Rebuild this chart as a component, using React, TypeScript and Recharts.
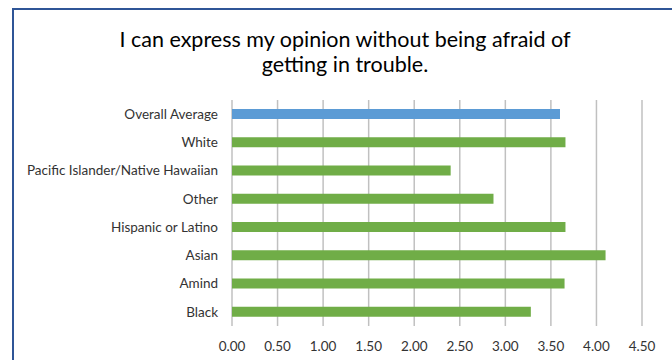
import { Bar, BarChart, CartesianGrid, Cell, XAxis, YAxis } from "recharts";

const CATEGORIES = [
  "Overall Average",
  "White",
  "Pacific Islander/Native Hawaiian",
  "Other",
  "Hispanic or Latino",
  "Asian",
  "Amind",
  "Black",
];
const SCORES = [3.6, 3.66, 2.4, 2.87, 3.66, 4.1, 3.65, 3.28];
const X_TICKS = [0, 0.5, 1, 1.5, 2, 2.5, 3, 3.5, 4, 4.5];

const FONT = "Lato, 'Open Sans', sans-serif";
const BLUE = "#5b9bd5";
const GREEN = "#70ad47";

export default function App() {
  const data = CATEGORIES.map((name, i) => ({ name, score: SCORES[i] }));

  return (
    <div style={{ position: "absolute", left: 0, top: 0, width: 672, height: 360, overflow: "hidden", background: "#fff" }}>
      {/* marco del gráfico (solo bordes izquierdo y superior visibles) */}
      <div
        style={{
          position: "absolute",
          left: 12,
          top: 8,
          width: 700,
          height: 400,
          borderLeft: "2px solid #2f5597",
          borderTop: "2px solid #2f5597",
        }}
      />
      <div
        style={{
          position: "absolute",
          left: 0,
          top: 27,
          width: 690,
          textAlign: "center",
          fontFamily: FONT,
          fontSize: 21.5,
          lineHeight: "25px",
          color: "#000",
        }}
      >
        I can express my opinion without being afraid of
        <br />
        getting in trouble.
      </div>
      <BarChart
        width={672}
        height={360}
        data={data}
        layout="vertical"
        margin={{ top: 100, right: 30, bottom: 4, left: 10 }}
        style={{ position: "absolute", left: 0, top: 0 }}
      >
        <CartesianGrid horizontal={false} stroke="#c0c0c0" strokeWidth={1.5} />
        <XAxis
          type="number"
          domain={[0, 4.5]}
          ticks={X_TICKS}
          tickFormatter={(v: number) => v.toFixed(2)}
          axisLine={false}
          tickLine={false}
          tickMargin={9}
          height={30}
          interval={0}
          tick={{ fill: "#333", fontSize: 13.5, fontFamily: FONT }}
        />
        <YAxis
          type="category"
          dataKey="name"
          width={222}
          axisLine={false}
          tickLine={false}
          tickMargin={8}
          interval={0}
          tick={{ fill: "#333", fontSize: 13.5, fontFamily: FONT }}
        />
        <Bar dataKey="score" barSize={10} isAnimationActive={false}>
          {data.map((d, i) => (
            <Cell key={d.name} fill={i === 0 ? BLUE : GREEN} />
          ))}
        </Bar>
      </BarChart>
    </div>
  );
}
